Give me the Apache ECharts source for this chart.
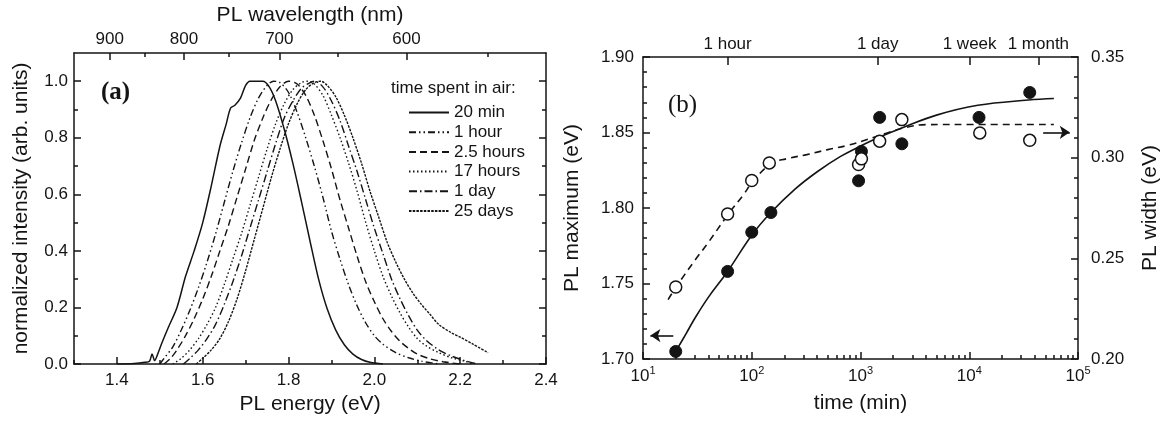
<!DOCTYPE html>
<html><head><meta charset="utf-8">
<script src="https://cdn.jsdelivr.net/npm/echarts@6/dist/echarts.min.js"></script>
<style>html,body{margin:0;padding:0;background:#fff}#c{width:1173px;height:421px}</style>
</head><body><div id="c"></div>
<script>
// ================= Panel (a): PL spectra =================
const energyTicks = [1.4, 1.6, 1.8, 2.0, 2.2, 2.4];
const energyMinorTicks = [1.3, 1.5, 1.7, 1.9, 2.1, 2.3];
const intensityTicks = [0, 0.2, 0.4, 0.6, 0.8, 1.0];
const intensityMinorTicks = [0.1, 0.3, 0.5, 0.7, 0.9];
const wavelengthTicks = [900, 800, 700, 600];
const wavelengthMinorTicks = [850, 750, 650, 550];
const nmToEvAsDrawn = 1245;   // eV·nm conversion as laid out on the reference's top axis
const legendNames = ['20 min', '1 hour', '2.5 hours', '17 hours', '1 day', '25 days'];

const spec20min = [[1.40,0.000],[1.44,0.002],[1.465,0.006],[1.476,0.010],[1.482,0.035],[1.488,0.012],[1.495,0.035],[1.505,0.075],[1.52,0.13],[1.54,0.20],[1.56,0.31],[1.58,0.40],[1.60,0.50],[1.62,0.63],[1.64,0.77],[1.655,0.85],[1.665,0.905],[1.675,0.915],[1.688,0.94],[1.70,0.985],[1.71,1.0],[1.74,1.0],[1.755,0.98],[1.77,0.93],[1.79,0.83],[1.81,0.71],[1.83,0.575],[1.85,0.435],[1.87,0.30],[1.89,0.195],[1.91,0.12],[1.93,0.068],[1.95,0.035],[1.97,0.016],[1.99,0.006],[2.02,0.0]];
const spec1hour = [[1.50,0.0],[1.51,0.02],[1.53,0.06],[1.55,0.12],[1.57,0.19],[1.59,0.27],[1.61,0.36],[1.63,0.46],[1.65,0.57],[1.67,0.68],[1.69,0.78],[1.71,0.87],[1.73,0.94],[1.75,0.985],[1.765,1.0],[1.78,0.995],[1.80,0.96],[1.82,0.89],[1.84,0.80],[1.86,0.70],[1.88,0.59],[1.90,0.47],[1.92,0.37],[1.94,0.28],[1.96,0.205],[1.98,0.145],[2.00,0.10],[2.02,0.07],[2.05,0.04],[2.08,0.022],[2.11,0.01],[2.15,0.0]];
const spec2_5hours = [[1.51,0.0],[1.525,0.02],[1.54,0.05],[1.56,0.10],[1.58,0.16],[1.60,0.23],[1.62,0.31],[1.64,0.40],[1.66,0.49],[1.68,0.59],[1.70,0.69],[1.72,0.79],[1.74,0.87],[1.76,0.935],[1.78,0.98],[1.80,1.0],[1.82,0.99],[1.84,0.95],[1.86,0.88],[1.88,0.79],[1.90,0.69],[1.92,0.58],[1.94,0.48],[1.96,0.38],[1.98,0.29],[2.00,0.22],[2.02,0.16],[2.04,0.115],[2.06,0.08],[2.08,0.055],[2.10,0.035],[2.13,0.018],[2.16,0.008],[2.20,0.0]];
const spec17hours = [[1.53,0.0],[1.55,0.02],[1.57,0.05],[1.59,0.09],[1.61,0.14],[1.63,0.20],[1.65,0.28],[1.67,0.37],[1.69,0.46],[1.71,0.56],[1.73,0.66],[1.75,0.76],[1.77,0.85],[1.79,0.92],[1.81,0.97],[1.83,0.995],[1.845,1.0],[1.86,0.99],[1.88,0.95],[1.90,0.88],[1.92,0.80],[1.94,0.71],[1.96,0.61],[1.98,0.50],[2.00,0.40],[2.02,0.31],[2.04,0.24],[2.06,0.18],[2.08,0.13],[2.10,0.09],[2.12,0.065],[2.15,0.04],[2.18,0.022],[2.21,0.01],[2.23,0.0]];
const spec1day = [[1.555,0.0],[1.57,0.02],[1.59,0.05],[1.61,0.09],[1.63,0.14],[1.65,0.21],[1.67,0.29],[1.69,0.38],[1.71,0.48],[1.73,0.58],[1.75,0.68],[1.77,0.78],[1.79,0.87],[1.81,0.93],[1.83,0.975],[1.85,0.995],[1.86,1.0],[1.88,0.98],[1.90,0.93],[1.92,0.86],[1.94,0.77],[1.96,0.68],[1.98,0.58],[2.00,0.48],[2.02,0.39],[2.04,0.30],[2.06,0.23],[2.08,0.17],[2.10,0.12],[2.12,0.085],[2.15,0.05],[2.18,0.028],[2.21,0.012],[2.24,0.0]];
const spec25days = [[1.585,0.0],[1.60,0.02],[1.62,0.05],[1.64,0.09],[1.66,0.15],[1.68,0.23],[1.70,0.33],[1.72,0.44],[1.74,0.55],[1.76,0.66],[1.78,0.76],[1.80,0.85],[1.82,0.92],[1.84,0.97],[1.86,0.995],[1.875,1.0],[1.89,0.985],[1.91,0.945],[1.93,0.88],[1.95,0.80],[1.97,0.71],[1.99,0.61],[2.01,0.52],[2.03,0.43],[2.05,0.36],[2.07,0.30],[2.09,0.25],[2.11,0.21],[2.13,0.175],[2.15,0.14],[2.18,0.11],[2.20,0.095],[2.23,0.07],[2.265,0.04]];

// ================= Panel (b): PL maximum & width vs time =================
const decadeStarts = [10, 100, 1000, 10000];
const minorMultipliers = [2, 3, 4, 5, 6, 7, 8, 9];
const timeMarks = [60, 1440, 10080, 43200];
const timeMarkLabels = ['1 hour', '1 day', '1 week', '1 month'];

const maxTime = [20, 60, 100, 150, 960, 1020, 1500, 2400, 12300, 36000];
const maxEnergy = [1.705, 1.758, 1.784, 1.797, 1.818, 1.8375, 1.860, 1.8425, 1.860, 1.8765];
const widthTime = [20, 60, 100, 145, 960, 1020, 1500, 2400, 12500, 36000];
const widthValue = [0.2358, 0.272, 0.2887, 0.2974, 0.2966, 0.2994, 0.3082, 0.3189, 0.3123, 0.3086];

const fitMaxTime = [20, 25, 30, 40, 60, 100, 150, 250, 400, 650, 1000, 1500, 2400, 5000, 12000, 35000, 60000];
const fitMaxEnergy = [1.705, 1.717, 1.727, 1.741, 1.758, 1.782, 1.797, 1.8125, 1.824, 1.834, 1.841, 1.847, 1.853, 1.8615, 1.868, 1.8715, 1.8725];
const fitWidthTime = [17, 20, 30, 40, 60, 85, 100, 150, 210, 320, 500, 750, 1150, 1700, 2600, 4000, 10000, 60000];
const fitWidthValue = [0.2295, 0.2355, 0.249, 0.258, 0.2715, 0.282, 0.2875, 0.297, 0.2995, 0.3015, 0.304, 0.306, 0.309, 0.312, 0.315, 0.3164, 0.3165, 0.3165];

const arrowLeft = {from: 19, to: 11.7, y: 1.7155};
const arrowRight = {from: 47800, to: 84000, y: 0.3126};

// ================= Chart =================
const INK = '#141414';
const FONT = 'Liberation Sans';
const zip = (a, b) => a.map((v, i) => [v, b[i]]);
const toE = nm => nmToEvAsDrawn / nm;

const minorTimes = [];
decadeStarts.forEach(d => minorMultipliers.forEach(m => minorTimes.push(d * m)));

const TICK_STYLE = {color: INK, width: 1.5};
function tick(len, customValues) {
  const t = {show: true, inside: true, length: len, lineStyle: TICK_STYLE};
  if (customValues) t.customValues = customValues;
  return t;
}
function baseAxis(extra) {
  return Object.assign({
    splitLine: {show: false},
    axisLine: {show: true, onZero: false, lineStyle: {color: INK, width: 1.5}},
    axisTick: tick(7),
    axisLabel: {show: false, color: INK, fontFamily: FONT, fontSize: 17},
    nameTextStyle: {color: INK, fontFamily: FONT, fontSize: 21}
  }, extra);
}
function tickOnly(extra) {
  const a = baseAxis(extra);
  a.axisLine = {show: false, onZero: false};
  return a;
}
function label(extra) {
  return Object.assign({show: true, color: INK, fontFamily: FONT, fontSize: 17}, extra);
}

const lineStyles = [
  {type: 'solid', width: 1.5},
  {type: [7, 3, 1.5, 3, 1.5, 3], width: 1.4},
  {type: [7, 4], width: 1.4},
  {type: [1.5, 2.5], width: 1.4},
  {type: [8, 3, 1.5, 3], width: 1.4},
  {type: [2.5, 1.2], width: 1.4}
];
const spectra = [spec20min, spec1hour, spec2_5hours, spec17hours, spec1day, spec25days];

const series = spectra.map((d, i) => ({
  name: legendNames[i], type: 'line', xAxisIndex: 0, yAxisIndex: 0,
  data: d, showSymbol: false, symbol: 'none', smooth: 0.3,
  lineStyle: Object.assign({color: INK}, lineStyles[i]), itemStyle: {color: INK}
}));

const arrowMark = (from, to, y) => ({
  silent: true, symbol: ['none', 'arrow'], symbolSize: 10, label: {show: false},
  lineStyle: {color: INK, type: 'solid', width: 1.6, opacity: 1},
  emphasis: {disabled: true},
  data: [[{coord: [from, y]}, {coord: [to, y]}]]
});

series.push({
  name: 'fitMax', type: 'line', xAxisIndex: 4, yAxisIndex: 4,
  data: zip(fitMaxTime, fitMaxEnergy), symbol: 'none', smooth: 0.4,
  lineStyle: {color: INK, width: 1.6},
  markLine: arrowMark(arrowLeft.from, arrowLeft.to, arrowLeft.y)
});
series.push({
  name: 'fitWidth', type: 'line', xAxisIndex: 4, yAxisIndex: 5,
  data: zip(fitWidthTime, fitWidthValue), symbol: 'none', smooth: 0.4,
  lineStyle: {color: INK, width: 1.6, type: [7, 5]},
  markLine: arrowMark(arrowRight.from, arrowRight.to, arrowRight.y)
});
series.push({
  name: 'PL maximum', type: 'scatter', xAxisIndex: 4, yAxisIndex: 4,
  data: zip(maxTime, maxEnergy), symbol: 'circle', symbolSize: 12,
  itemStyle: {color: INK, borderColor: INK, borderWidth: 1, opacity: 1}, z: 5
});
series.push({
  name: 'PL width', type: 'scatter', xAxisIndex: 4, yAxisIndex: 5,
  data: zip(widthTime, widthValue), symbol: 'circle', symbolSize: 12,
  itemStyle: {color: '#fff', borderColor: INK, borderWidth: 1.5, opacity: 1}, z: 5
});

const option = {
  animation: false,
  backgroundColor: '#fff',
  title: [
    {text: '(a)', left: 101, top: 80, padding: 0,
     textStyle: {fontFamily: 'Liberation Serif', fontWeight: 'bold', fontSize: 25, color: INK}},
    {text: '(b)', left: 668, top: 93, padding: 0,
     textStyle: {fontFamily: 'Liberation Serif', fontWeight: 'normal', fontSize: 25, color: INK}},
    {text: 'time spent in air:', left: 391, top: 80, padding: 0,
     textStyle: {fontFamily: FONT, fontWeight: 'normal', fontSize: 17, color: INK}}
  ],
  legend: {
    data: legendNames, orient: 'vertical', left: 408, top: 104, padding: 0,
    itemWidth: 40, itemHeight: 12, itemGap: 2.7,
    itemStyle: {opacity: 0},
    textStyle: {fontFamily: FONT, fontSize: 17, color: INK, lineHeight: 17},
    selectedMode: false
  },
  grid: [
    {left: 74, top: 52, width: 472, height: 312},
    {left: 643, top: 57, width: 435, height: 302}
  ],
  xAxis: [
    baseAxis({gridIndex: 0, type: 'value', min: 1.3, max: 2.4, position: 'bottom',
      axisTick: tick(7, energyTicks),
      axisLabel: label({customValues: energyTicks, margin: 8, formatter: v => v.toFixed(1)}),
      name: 'PL energy (eV)', nameLocation: 'middle', nameGap: 23}),
    tickOnly({gridIndex: 0, type: 'value', min: 1.3, max: 2.4, position: 'bottom',
      axisTick: tick(4, energyMinorTicks)}),
    baseAxis({gridIndex: 0, type: 'value', min: 1.3, max: 2.4, position: 'top',
      axisTick: tick(7, wavelengthTicks.map(toE)),
      axisLabel: label({customValues: wavelengthTicks.map(toE), margin: 5,
        formatter: v => String(Math.round(nmToEvAsDrawn / v))}),
      name: 'PL wavelength (nm)', nameLocation: 'middle', nameGap: 26}),
    tickOnly({gridIndex: 0, type: 'value', min: 1.3, max: 2.4, position: 'top',
      axisTick: tick(4, wavelengthMinorTicks.map(toE))}),
    baseAxis({gridIndex: 1, type: 'log', logBase: 10, min: 10, max: 100000, position: 'bottom',
      axisTick: tick(7),
      axisLabel: label({margin: 6,
        formatter: v => '{b|10}{s|' + Math.round(Math.log10(v)) + '}',
        rich: {b: {fontFamily: FONT, fontSize: 17, color: INK, lineHeight: 22},
               s: {fontFamily: FONT, fontSize: 11, color: INK, verticalAlign: 'top', lineHeight: 12}}}),
      minorTick: {show: false},
      name: 'time (min)', nameLocation: 'middle', nameGap: 34}),
    tickOnly({gridIndex: 1, type: 'value', min: 1, max: 5, position: 'bottom',
      axisTick: tick(4, minorTimes.map(t => Math.log10(t)))}),
    baseAxis({gridIndex: 1, type: 'value', min: 1, max: 5, position: 'top',
      axisTick: tick(8, timeMarks.map(t => Math.log10(t))),
      axisLabel: label({customValues: timeMarks.map(t => Math.log10(t)), margin: 4,
        formatter: v => {
          let best = 0;
          timeMarks.forEach((t, i) => { if (Math.abs(Math.log10(t) - v) < Math.abs(Math.log10(timeMarks[best]) - v)) best = i; });
          return timeMarkLabels[best];
        }})})
  ],
  yAxis: [
    baseAxis({gridIndex: 0, type: 'value', min: 0, max: 1.1, position: 'left',
      axisTick: tick(7, intensityTicks),
      axisLabel: label({customValues: intensityTicks, margin: 6, formatter: v => v.toFixed(1)}),
      name: 'normalized intensity (arb. units)', nameLocation: 'middle', nameRotate: 90, nameGap: 42}),
    tickOnly({gridIndex: 0, type: 'value', min: 0, max: 1.1, position: 'left',
      axisTick: tick(4, intensityMinorTicks)}),
    baseAxis({gridIndex: 0, type: 'value', min: 0, max: 1.1, position: 'right',
      axisTick: tick(7, intensityTicks)}),
    tickOnly({gridIndex: 0, type: 'value', min: 0, max: 1.1, position: 'right',
      axisTick: tick(4, intensityMinorTicks)}),
    baseAxis({gridIndex: 1, type: 'value', min: 1.7, max: 1.9, interval: 0.05, position: 'left',
      axisTick: tick(7),
      minorTick: {show: true, splitNumber: 5, length: 4, lineStyle: TICK_STYLE},
      axisLabel: label({margin: 9, formatter: v => v.toFixed(2)}),
      name: 'PL maximum (eV)', nameLocation: 'middle', nameRotate: 90, nameGap: 60}),
    baseAxis({gridIndex: 1, type: 'value', min: 0.2, max: 0.35, interval: 0.05, position: 'right',
      axisTick: tick(7),
      minorTick: {show: true, splitNumber: 5, length: 4, lineStyle: TICK_STYLE},
      axisLabel: label({margin: 13, formatter: v => v.toFixed(2)}),
      name: 'PL width (eV)', nameLocation: 'middle', nameRotate: 90, nameGap: 62})
  ],
  series: series
};

const chart = echarts.init(document.getElementById('c'), null, {renderer: 'canvas'});
chart.setOption(option);
</script>
</body></html>
